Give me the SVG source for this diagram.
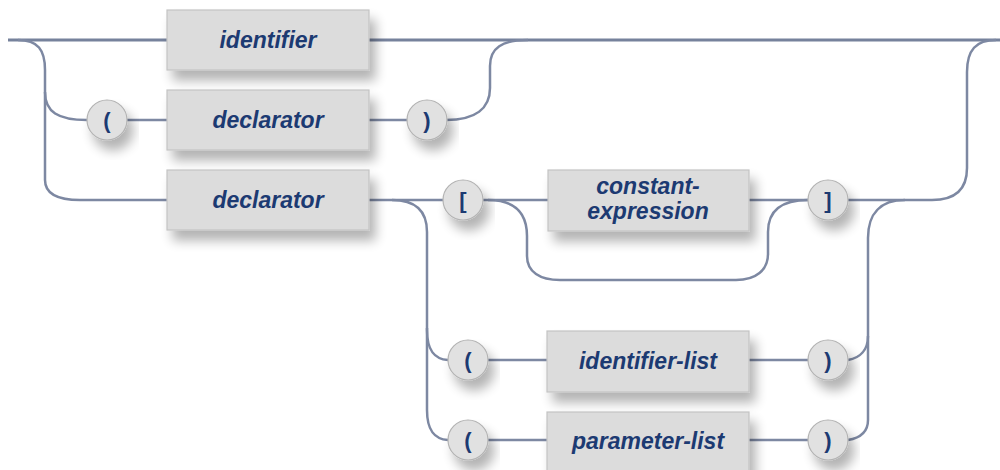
<svg xmlns="http://www.w3.org/2000/svg" width="1000" height="470" viewBox="0 0 1000 470">
<defs>
<filter id="sh" x="-30%" y="-30%" width="160%" height="180%">
<feGaussianBlur in="SourceAlpha" stdDeviation="6"/>
<feOffset dx="6" dy="10" result="b"/>
<feComponentTransfer><feFuncA type="linear" slope="0.3"/></feComponentTransfer>
<feMerge><feMergeNode/><feMergeNode in="SourceGraphic"/></feMerge>
</filter>
<style>
.box{fill:#dcdcdc;stroke:#c3c3c3;stroke-width:1.2;filter:url(#sh)}
.cir{fill:#e1e1e1;stroke:#b3b3b3;stroke-width:1.2;filter:url(#sh)}
.t{font-family:"Liberation Sans",Arial,sans-serif;font-weight:bold;font-style:italic;font-size:23px;fill:#1c3a72;text-anchor:middle}
.p{font-family:"Liberation Sans",Arial,sans-serif;font-weight:bold;font-size:22px;fill:#1c3a72;text-anchor:middle}
.ln{fill:none;stroke:#7d88a2;stroke-width:2.5}
.main{fill:none;stroke:#76829c;stroke-width:3.2}
</style>
</defs>
<g id="connectors">
<path class="main" d="M8 40 H167 M369 40 H1000"/>
<path class="ln" d="M18 40 C38 40 45 50 45 70 V180 C45 194 58 200 80 200 H167"/>
<path class="ln" d="M45 92 C45 112 58 120 87 120"/>
<path class="ln" d="M127 120 H167 M369 120 H408"/>
<path class="ln" d="M446 120 C476 120 490 108 490 88 V66 C490 48 502 40 528 40"/>
<path class="ln" d="M369 200 H443 M483 200 H548 M749 200 H808 M848 200 H932 C955 200 967 190 967 168 V72 C967 50 976 40 996 40"/>
<path class="ln" d="M392 200 C415 200 427 210 427 232 V330 C427 350 434 359 448 360"/>
<path class="ln" d="M427 328 V410 C427 430 434 439 448 440"/>
<path class="ln" d="M488 200 C514 200 527 212 527 236 V256 C527 272 540 280 560 280 H736 C756 280 768 270 768 254 V232 C768 212 780 200 808 200"/>
<path class="ln" d="M905 200 C880 200 868 214 868 238 V420 C868 432 860 438 848 440"/>
<path class="ln" d="M868 336 C868 350 860 358 848 360"/>
<path class="ln" d="M488 360 H547 M749 360 H808 M488 440 H547 M749 440 H808"/>
</g>
<g id="n-identifier"><rect class="box" x="167" y="10" width="202" height="60"/><text class="t" x="268" y="48">identifier</text></g>
<g id="n-lparen1"><circle class="cir" cx="107" cy="120" r="20"/><text class="p" x="107" y="128">(</text></g>
<g id="n-declarator1"><rect class="box" x="167" y="90" width="202" height="60"/><text class="t" x="268" y="128">declarator</text></g>
<g id="n-rparen1"><circle class="cir" cx="427" cy="120" r="20"/><text class="p" x="427" y="128">)</text></g>
<g id="n-declarator2"><rect class="box" x="167" y="170" width="202" height="60"/><text class="t" x="268" y="208">declarator</text></g>
<g id="n-lbracket"><circle class="cir" cx="463" cy="200" r="20"/><text class="p" x="463" y="208">[</text></g>
<g id="n-constexpr"><rect class="box" x="548" y="170" width="201" height="61"/><text class="t" x="648" y="194">constant-</text><text class="t" x="648" y="219">expression</text></g>
<g id="n-rbracket"><circle class="cir" cx="828" cy="200" r="20"/><text class="p" x="828" y="208">]</text></g>
<g id="n-lparen2"><circle class="cir" cx="468" cy="360" r="20"/><text class="p" x="468" y="368">(</text></g>
<g id="n-identlist"><rect class="box" x="547" y="331" width="202" height="61"/><text class="t" x="648" y="369">identifier-list</text></g>
<g id="n-rparen2"><circle class="cir" cx="828" cy="360" r="20"/><text class="p" x="828" y="368">)</text></g>
<g id="n-lparen3"><circle class="cir" cx="468" cy="440" r="20"/><text class="p" x="468" y="448">(</text></g>
<g id="n-paramlist"><rect class="box" x="547" y="412" width="202" height="62"/><text class="t" x="648" y="449">parameter-list</text></g>
<g id="n-rparen3"><circle class="cir" cx="828" cy="440" r="20"/><text class="p" x="828" y="448">)</text></g>
</svg>
